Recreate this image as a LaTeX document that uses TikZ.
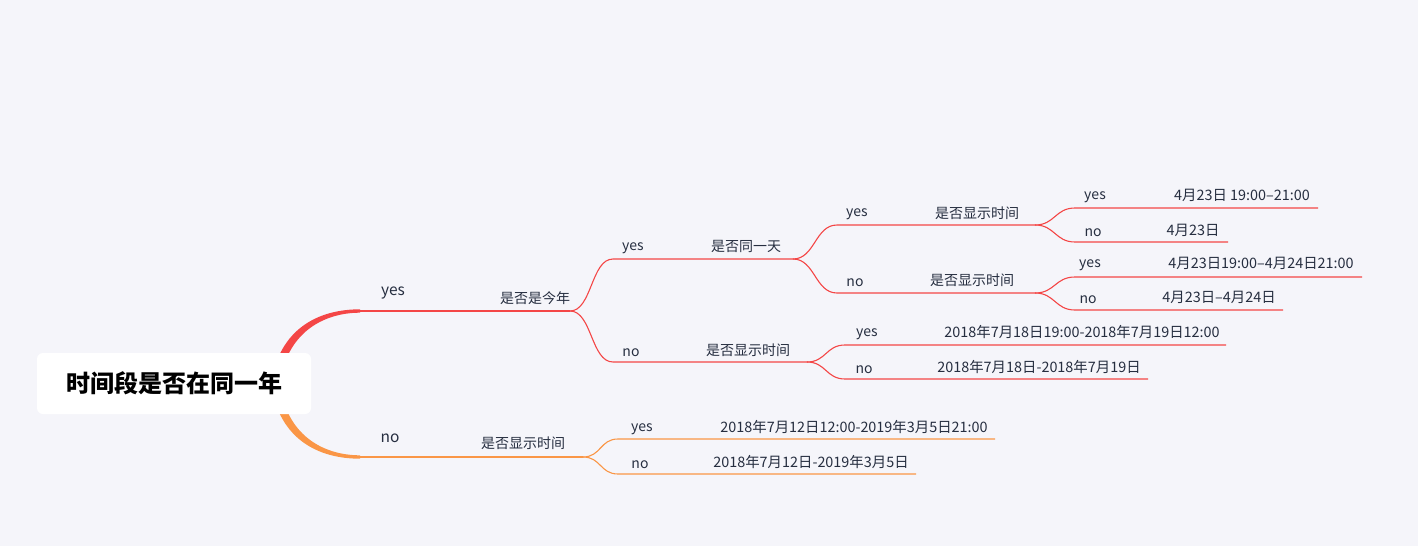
\documentclass[tikz,border=0pt]{standalone}
\usepackage{fontspec}
\setmainfont{Noto Sans CJK SC}
\begin{document}
\definecolor{bg}{RGB}{245,245,250}
\definecolor{cred}{RGB}{244,70,70}
\definecolor{corg}{RGB}{250,150,70}
\definecolor{txt}{RGB}{38,46,64}
\tikzset{
  lbl/.style={text=txt, font=\fontsize{14}{16}\selectfont, inner sep=0pt},
  yn/.style={lbl, yshift=-2.5pt},
  lbld/.style={text=txt, font=\fontsize{14.4}{16}\selectfont, inner sep=0pt},
  lbla/.style={text=txt, font=\fontsize{15.5}{17}\selectfont, inner sep=0pt, yshift=-2.5pt},
  rootbox/.style={fill=white, rounded corners=6pt, minimum width=274pt, minimum height=61pt, inner sep=0pt, text=black, font=\fontsize{24}{27}\selectfont\bfseries},
  thinr/.style={draw=cred, line width=1.1pt},
  thino/.style={draw=corg, line width=1.1pt},
}
\begin{tikzpicture}[x=1pt,y=-1pt]
\fill[bg] (0,0) rectangle (1418,546);
\useasboundingbox (0,0) rectangle (1418,546);

% main branches (drawn under root box)
\coordinate (ys) at (271,384);
\coordinate (y1) at (360,311);
\coordinate (j1) at (570,311);
\coordinate (n1) at (360,457);
\coordinate (j6) at (583,457);
\fill[cred] (ys) .. controls +(8,-55) and +(-42,0) .. ([yshift=1.7pt]y1) -- ([yshift=-1.7pt]y1) .. controls +(-38,0) and +(6,-50) .. ([xshift=9pt]ys) -- cycle;
\fill[corg] (ys) .. controls +(8,55) and +(-42,0) .. ([yshift=-1.7pt]n1) -- ([yshift=1.7pt]n1) .. controls +(-38,0) and +(6,50) .. ([xshift=9pt]ys) -- cycle;
\draw[cred, line width=2.4pt] (y1) -- (j1);
\draw[corg, line width=2.4pt] (n1) -- (j6);

\node[rootbox] (root) at (174,383.5) {时间段是否在同一年};

\node[lbla] (ly1) at (393,290) {yes};
\node[lbl] (qy1) at (535,298) {是否是今年};
\node[lbla] (ln1) at (390,436) {no};
\node[lbl] (qn1) at (523,443) {是否显示时间};

% level 2 from j1
\coordinate (y2s) at (613,259); \coordinate (j2) at (793,259);
\coordinate (n2s) at (613,362); \coordinate (j5) at (807,362);
\draw[thinr] (j1) .. controls +(22,0) and +(-22,0) .. (y2s) -- (j2);
\draw[thinr] (j1) .. controls +(22,0) and +(-22,0) .. (n2s) -- (j5);
\node[yn] (ly2) at (633,246) {yes};
\node[lbl] (qy2) at (746,246) {是否同一天};
\node[yn] (ln2) at (631,350) {no};
\node[lbl] (qn2) at (748,350) {是否显示时间};

% level 3 from j2
\coordinate (y3s) at (837,225); \coordinate (j3) at (1035,225);
\coordinate (n3s) at (837,293); \coordinate (j4) at (1035,293);
\draw[thinr] (j2) .. controls +(22,0) and +(-22,0) .. (y3s) -- (j3);
\draw[thinr] (j2) .. controls +(22,0) and +(-22,0) .. (n3s) -- (j4);
\node[yn] (ly3) at (857,212) {yes};
\node[lbl] (qy3) at (977,213) {是否显示时间};
\node[yn] (ln3) at (855,280) {no};
\node[lbl] (qn3) at (972,280) {是否显示时间};

% leaves from j3
\coordinate (a1) at (1075,208); \coordinate (a1e) at (1318,208);
\coordinate (a2) at (1075,242); \coordinate (a2e) at (1228,242);
\draw[thinr] (j3) .. controls +(20,0) and +(-20,0) .. (a1) -- (a1e);
\draw[thinr] (j3) .. controls +(20,0) and +(-20,0) .. (a2) -- (a2e);
\node[yn] (la1) at (1095,195) {yes};
\node[lbld] (ta1) at (1242,195) {4月23日 19:00–21:00};
\node[yn] (la2) at (1093,230) {no};
\node[lbld] (ta2) at (1193,230) {4月23日};

% leaves from j4
\coordinate (b1) at (1075,277); \coordinate (b1e) at (1362,277);
\coordinate (b2) at (1075,310); \coordinate (b2e) at (1283,310);
\draw[thinr] (j4) .. controls +(20,0) and +(-20,0) .. (b1) -- (b1e);
\draw[thinr] (j4) .. controls +(20,0) and +(-20,0) .. (b2) -- (b2e);
\node[yn] (lb1) at (1090,263) {yes};
\node[lbld] (tb1) at (1261,263) {4月23日19:00–4月24日21:00};
\node[yn] (lb2) at (1088,297) {no};
\node[lbld] (tb2) at (1219,297) {4月23日–4月24日};

% leaves from j5
\coordinate (c1) at (845,345); \coordinate (c1e) at (1226,345);
\coordinate (c2) at (845,379); \coordinate (c2e) at (1148,379);
\draw[thinr] (j5) .. controls +(19,0) and +(-19,0) .. (c1) -- (c1e);
\draw[thinr] (j5) .. controls +(19,0) and +(-19,0) .. (c2) -- (c2e);
\node[yn] (lc1) at (867,332) {yes};
\node[lbld] (tc1) at (1082,332) {2018年7月18日19:00-2018年7月19日12:00};
\node[yn] (lc2) at (864,367) {no};
\node[lbld] (tc2) at (1039,367) {2018年7月18日-2018年7月19日};

% leaves from j6
\coordinate (d1) at (618,439); \coordinate (d1e) at (995,439);
\coordinate (d2) at (618,474); \coordinate (d2e) at (916,474);
\draw[thino] (j6) .. controls +(18,0) and +(-18,0) .. (d1) -- (d1e);
\draw[thino] (j6) .. controls +(18,0) and +(-18,0) .. (d2) -- (d2e);
\node[yn] (ld1) at (642,427) {yes};
\node[lbld] (td1) at (854,427) {2018年7月12日12:00-2019年3月5日21:00};
\node[yn] (ld2) at (640,462) {no};
\node[lbld] (td2) at (811,462) {2018年7月12日-2019年3月5日};
\end{tikzpicture}
\end{document}
